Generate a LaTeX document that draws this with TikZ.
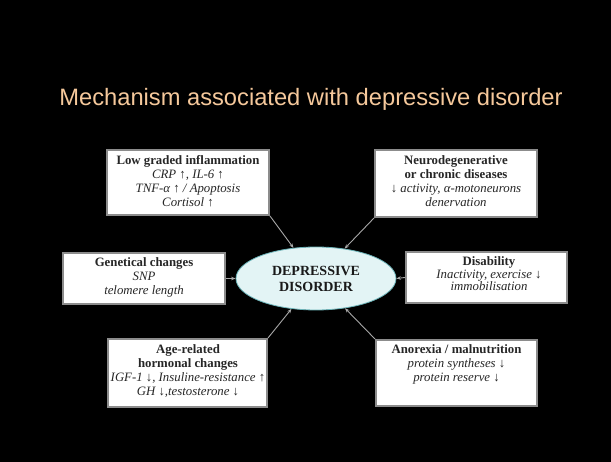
\documentclass[tikz,border=0pt]{standalone}
\usepackage{fontspec}
\setmainfont{Liberation Serif}
\newfontfamily\titlefont{Liberation Sans}
\usetikzlibrary{arrows.meta,shapes.geometric}
\definecolor{titlecol}{HTML}{F5C89B}
\definecolor{boxgray}{HTML}{8C8C8C}
\definecolor{arrgray}{HTML}{A8A8A8}
\definecolor{txtcol}{HTML}{262626}
\definecolor{ellfill}{HTML}{E3F4F5}
\definecolor{elldraw}{HTML}{6BB3B8}
\begin{document}
\begin{tikzpicture}[x=1pt,y=-1pt,
  infobox/.style={draw=boxgray, line width=2pt, fill=white, inner sep=0pt},
  infotext/.style={align=center, text=txtcol, inner sep=0pt, font=\fontsize{12.8}{14}\selectfont},
  centre/.style={ellipse, draw=elldraw, line width=0.8pt, fill=ellfill, minimum width=160pt, minimum height=63pt, inner sep=0pt, align=center, text=black!90, font=\bfseries\fontsize{14}{16}\selectfont},
  conn/.style={draw=arrgray, line width=0.9pt, -{Stealth[length=4.5pt,width=3.5pt]}}
]
\fill[black] (0,0) rectangle (611,462);
\useasboundingbox (0,0) rectangle (611,462);

\node[font=\titlefont\fontsize{23.7}{28}\selectfont, text=titlecol, anchor=base, inner sep=0pt] (title) at (311,106) {Mechanism associated with depressive disorder};

\node[centre] (dep) at (316,278.5) {DEPRESSIVE\\DISORDER};

% boxes
\node[infobox, minimum width=162pt, minimum height=65pt] (tl) at (188,182.5) {};
\node[infobox, minimum width=162pt, minimum height=67pt] (tr) at (456,183.5) {};
\node[infobox, minimum width=162pt, minimum height=51pt] (gen) at (144,278.5) {};
\node[infobox, minimum width=161pt, minimum height=51pt] (dis) at (486.5,277.5) {};
\node[infobox, minimum width=159pt, minimum height=68pt] (ag) at (187.5,373) {};
\node[infobox, minimum width=161pt, minimum height=66pt] (an) at (456.5,373) {};

% texts
\node[infotext] (tltext) at (188,181) {\textbf{Low graded inflammation}\\\textit{CRP ↑, IL-6 ↑}\\\textit{TNF-α ↑ / Apoptosis}\\\textit{Cortisol ↑}};
\node[infotext] (trtext) at (456,181) {\textbf{Neurodegenerative}\\\textbf{or chronic diseases}\\\textit{↓ activity, α-motoneurons}\\\textit{denervation}};
\node[infotext] (gentext) at (144,277) {\textbf{Genetical changes}\\\textit{SNP}\\\textit{telomere length}};
\node[infotext, font=\fontsize{12.8}{12.5}\selectfont] (distext) at (489,274) {\textbf{Disability}\\\textit{Inactivity, exercise ↓}\\\textit{immobilisation}};
\node[infotext] (agtext) at (188,371) {\textbf{Age-related}\\\textbf{hormonal changes}\\\textit{IGF-1 ↓, Insuline-resistance ↑}\\\textit{GH ↓,testosterone ↓}};
\node[infotext] (antext) at (456.5,364.5) {\textbf{Anorexia / malnutrition}\\\textit{protein syntheses ↓}\\\textit{protein reserve ↓}};

% connectors
\draw[conn] (tl.south east) -- (dep);
\draw[conn] (tr.south west) -- (dep);
\draw[conn] (gen.east) -- (dep.west);
\draw[conn] (dis.west) -- (dep.east);
\draw[conn] (ag.north east) -- (dep);
\draw[conn] (an.north west) -- (dep);
\end{tikzpicture}
\end{document}
